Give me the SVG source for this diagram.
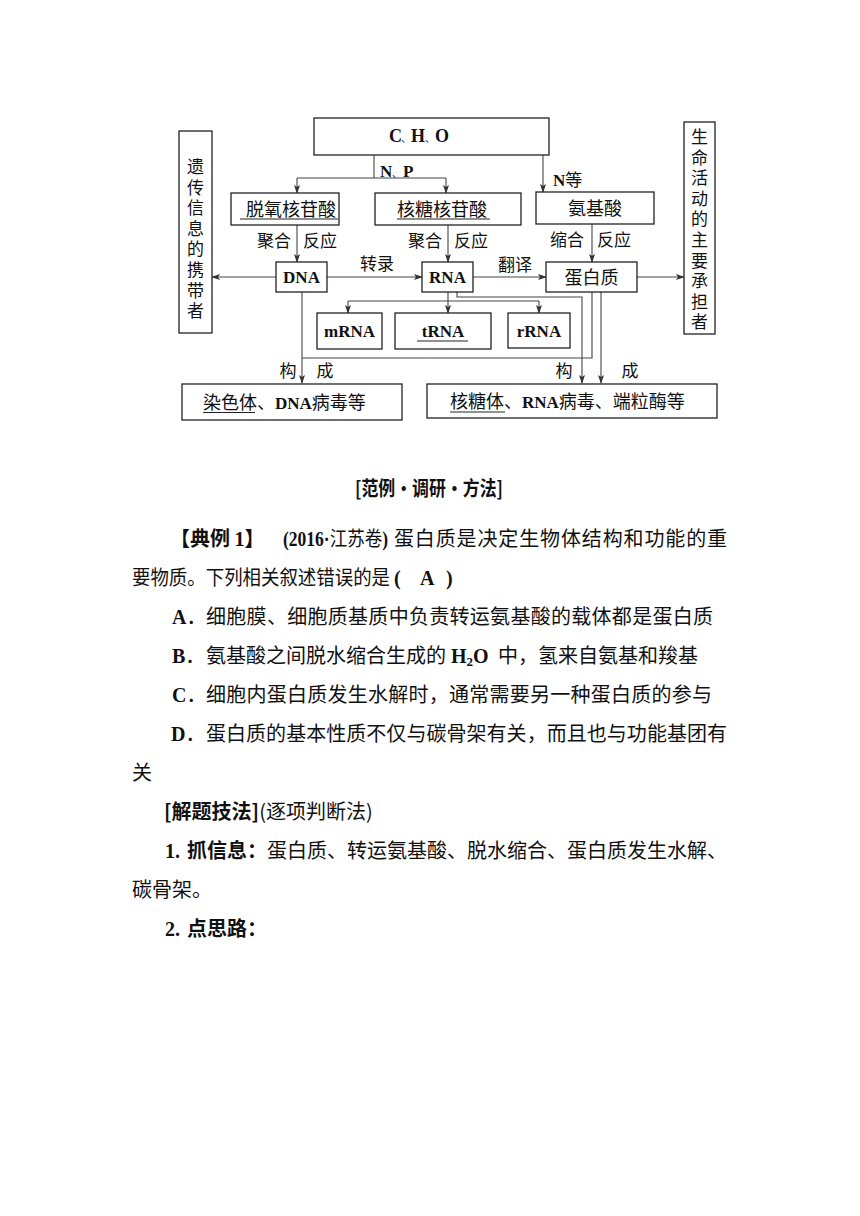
<svg xmlns="http://www.w3.org/2000/svg" width="860" height="1216" viewBox="0 0 860 1216">
<style>
.bx{fill:#fff;stroke:#222;stroke-width:1.3}
.cn{fill:none;stroke:#444;stroke-width:1.1}
.ul{stroke:#222;stroke-width:1.2}
.cj{font-family:"Noto Sans CJK SC",sans-serif;font-size:18px;fill:#111}
.lb{font-family:"Noto Sans CJK SC",sans-serif;font-size:17px;fill:#111}
.la{font-family:"Liberation Serif",serif;font-weight:bold;fill:#111}
.tx{font-family:"Noto Sans CJK SC",sans-serif;font-size:20px;fill:#111}
.hd{font-family:"Noto Sans CJK SC",sans-serif;font-size:20px;font-weight:bold;fill:#111}
.lt{font-family:"Liberation Serif",serif;font-size:20px;font-weight:bold;fill:#111}
</style>
<defs>
<marker id="ar" markerWidth="9" markerHeight="7" refX="8" refY="3.5" orient="auto" markerUnits="userSpaceOnUse">
<path d="M0,0.5 L9,3.5 L0,6.5 L2,3.5 z" fill="#333"/>
</marker>
</defs>

<g id="connectors">
<path class="cn" d="M374,155 V178 M297,178 H446"/>
<path class="cn" d="M297,178 V193" marker-end="url(#ar)"/>
<path class="cn" d="M446,178 V193" marker-end="url(#ar)"/>
<path class="cn" d="M543,155 V192" marker-end="url(#ar)"/>
<path class="cn" d="M297,225 V262" marker-end="url(#ar)"/>
<path class="cn" d="M448,225 V262" marker-end="url(#ar)"/>
<path class="cn" d="M592,224 V262" marker-end="url(#ar)"/>
<path class="cn" d="M276,277 H212" marker-end="url(#ar)"/>
<path class="cn" d="M327,277 H422" marker-end="url(#ar)"/>
<path class="cn" d="M473,277 H546" marker-end="url(#ar)"/>
<path class="cn" d="M637,277 H684" marker-end="url(#ar)"/>
<path class="cn" d="M448,292 V301 M348,301 H539"/>
<path class="cn" d="M348,301 V313" marker-end="url(#ar)"/>
<path class="cn" d="M448,301 V313" marker-end="url(#ar)"/>
<path class="cn" d="M539,301 V313" marker-end="url(#ar)"/>
<path class="cn" d="M457,292 V297 H582 V383" marker-end="url(#ar)"/>
<path class="cn" d="M302,292 V383" marker-end="url(#ar)"/>
<path class="cn" d="M592,292 V358 H302"/>
<path class="cn" d="M601,292 V383" marker-end="url(#ar)"/>
</g>

<g id="labels">
<text class="la" font-size="17"><tspan x="380" y="177">N</tspan><tspan x="392" y="177" font-family="Noto Sans CJK SC" font-weight="normal" font-size="10">、</tspan><tspan x="403" y="177">P</tspan></text>
<text class="la" font-size="17" x="553" y="186">N<tspan class="lb" font-weight="normal">等</tspan></text>
<text class="lb" x="257" y="247">聚合</text><text class="lb" x="303" y="247">反应</text>
<text class="lb" x="408" y="247">聚合</text><text class="lb" x="454" y="247">反应</text>
<text class="lb" x="550" y="246">缩合</text><text class="lb" x="597" y="246">反应</text>
<text class="lb" x="377" y="270" text-anchor="middle">转录</text>
<text class="lb" x="515" y="271" text-anchor="middle">翻译</text>
<text class="lb" x="288" y="377" text-anchor="middle">构</text>
<text class="lb" x="325" y="377" text-anchor="middle">成</text>
<text class="lb" x="564" y="377" text-anchor="middle">构</text>
<text class="lb" x="630" y="377" text-anchor="middle">成</text>
</g>

<g id="n-cho">
<rect class="bx" x="314" y="118" width="235" height="37"/>
<text class="la" font-size="18"><tspan x="389" y="142">C</tspan><tspan x="401" y="142" font-family="Noto Sans CJK SC" font-weight="normal" font-size="10">、</tspan><tspan x="411" y="142">H</tspan><tspan x="425" y="142" font-family="Noto Sans CJK SC" font-weight="normal" font-size="10">、</tspan><tspan x="435" y="142">O</tspan></text>
</g>

<g id="n-carrier">
<rect class="bx" x="179" y="131" width="33" height="202"/>
<text class="lb" text-anchor="middle"><tspan x="195.5" y="173">遗</tspan><tspan x="195.5" y="193.6">传</tspan><tspan x="195.5" y="214.2">信</tspan><tspan x="195.5" y="234.8">息</tspan><tspan x="195.5" y="255.4">的</tspan><tspan x="195.5" y="276">携</tspan><tspan x="195.5" y="296.6">带</tspan><tspan x="195.5" y="317.2">者</tspan></text>
</g>

<g id="n-bearer">
<rect class="bx" x="684" y="122" width="31" height="212"/>
<text class="lb" text-anchor="middle"><tspan x="699.5" y="143">生</tspan><tspan x="699.5" y="163.6">命</tspan><tspan x="699.5" y="184.2">活</tspan><tspan x="699.5" y="204.8">动</tspan><tspan x="699.5" y="225.4">的</tspan><tspan x="699.5" y="246">主</tspan><tspan x="699.5" y="266.6">要</tspan><tspan x="699.5" y="287.2">承</tspan><tspan x="699.5" y="307.8">担</tspan><tspan x="699.5" y="328.4">者</tspan></text>
</g>

<g id="n-dnt">
<rect class="bx" x="231" y="193" width="108" height="32"/>
<text class="cj" x="246" y="215.5">脱氧核苷酸</text>
<line class="ul" x1="240" y1="219" x2="338" y2="219"/>
</g>

<g id="n-rnt">
<rect class="bx" x="375" y="193" width="146" height="32"/>
<text class="cj" x="397" y="215.5">核糖核苷酸</text>
<line class="ul" x1="397" y1="219" x2="490" y2="219"/>
</g>

<g id="n-aa">
<rect class="bx" x="536" y="192" width="118" height="32"/>
<text class="cj" x="595" y="215" text-anchor="middle">氨基酸</text>
</g>

<g id="n-dna">
<rect class="bx" x="276" y="262" width="51" height="30"/>
<text class="la" font-size="17" x="301.5" y="283" text-anchor="middle">DNA</text>
</g>

<g id="n-rna">
<rect class="bx" x="422" y="262" width="51" height="30"/>
<text class="la" font-size="17" x="447.5" y="283" text-anchor="middle">RNA</text>
</g>

<g id="n-protein">
<rect class="bx" x="546" y="262" width="91" height="30"/>
<text class="cj" x="591.5" y="283.5" text-anchor="middle">蛋白质</text>
</g>

<g id="n-mrna">
<rect class="bx" x="317" y="313" width="65" height="36"/>
<text class="la" font-size="17" x="349.5" y="337" text-anchor="middle">mRNA</text>
</g>

<g id="n-trna">
<rect class="bx" x="395" y="313" width="96" height="36"/>
<text class="la" font-size="17" x="443" y="337" text-anchor="middle">tRNA</text>
<line class="ul" x1="417" y1="341" x2="468" y2="341"/>
</g>

<g id="n-rrna">
<rect class="bx" x="508" y="313" width="62" height="35"/>
<text class="la" font-size="17" x="539" y="337" text-anchor="middle">rRNA</text>
</g>

<g id="n-chromosome">
<rect class="bx" x="182" y="384" width="220" height="36"/>
<text class="cj" x="203" y="408.5">染色体、<tspan class="la" font-size="17">DNA</tspan>病毒等</text>
<line class="ul" x1="203" y1="412.5" x2="255" y2="412.5"/>
</g>

<g id="n-ribosome">
<rect class="bx" x="427" y="384" width="290" height="34"/>
<text class="cj" x="450" y="408">核糖体、<tspan class="la" font-size="17">RNA</tspan>病毒、端粒酶等</text>
<line class="ul" x1="450" y1="412" x2="505" y2="412"/>
</g>

<g id="body">
<text class="hd" x="429" y="496" text-anchor="middle" textLength="148" lengthAdjust="spacingAndGlyphs">[范例·调研·方法]</text>

<text class="hd" x="170" y="546">【典例 <tspan class="lt">1</tspan>】</text>
<text class="lt" x="283" y="546" textLength="105" lengthAdjust="spacingAndGlyphs">(2016·<tspan class="tx" font-weight="normal">江苏卷</tspan>)</text>
<text class="tx" x="394" y="546" textLength="333" lengthAdjust="spacing">蛋白质是决定生物体结构和功能的重</text>

<text class="tx" x="132" y="585" textLength="258" lengthAdjust="spacingAndGlyphs">要物质。下列相关叙述错误的是</text>
<text class="lt" x="394" y="585">(</text>
<text class="lt" x="420" y="585">A</text>
<text class="lt" x="446" y="585">)</text>

<text class="lt" x="172" y="624">A<tspan class="tx" font-weight="normal">．</tspan></text>
<text class="tx" x="206" y="624" textLength="507" lengthAdjust="spacing">细胞膜、细胞质基质中负责转运氨基酸的载体都是蛋白质</text>

<text class="lt" x="172" y="663">B<tspan class="tx" font-weight="normal">．</tspan></text>
<text class="tx" x="206" y="663">氨基酸之间脱水缩合生成的</text>
<text class="lt" x="451" y="663">H<tspan font-size="13" dy="3">2</tspan><tspan dy="-3">O</tspan></text>
<text class="tx" x="498" y="663">中，氢来自氨基和羧基</text>

<text class="lt" x="172" y="702">C<tspan class="tx" font-weight="normal">．</tspan></text>
<text class="tx" x="206" y="702" textLength="506" lengthAdjust="spacing">细胞内蛋白质发生水解时，通常需要另一种蛋白质的参与</text>

<text class="lt" x="171" y="741">D<tspan class="tx" font-weight="normal">．</tspan></text>
<text class="tx" x="206" y="741" textLength="521" lengthAdjust="spacing">蛋白质的基本性质不仅与碳骨架有关，而且也与功能基团有</text>

<text class="tx" x="132" y="780">关</text>

<text class="hd" x="164" y="819">[解题技法]<tspan class="tx" font-weight="normal">(逐项判断法)</tspan></text>

<text class="lt" x="165" y="858">1.</text>
<text class="hd" x="187" y="858">抓信息：<tspan class="tx" font-weight="normal">蛋白质、转运氨基酸、脱水缩合、蛋白质发生水解、</tspan></text>

<text class="tx" x="132" y="897">碳骨架。</text>

<text class="lt" x="165" y="936">2.</text>
<text class="hd" x="187" y="936">点思路：</text>
</g>
</svg>
